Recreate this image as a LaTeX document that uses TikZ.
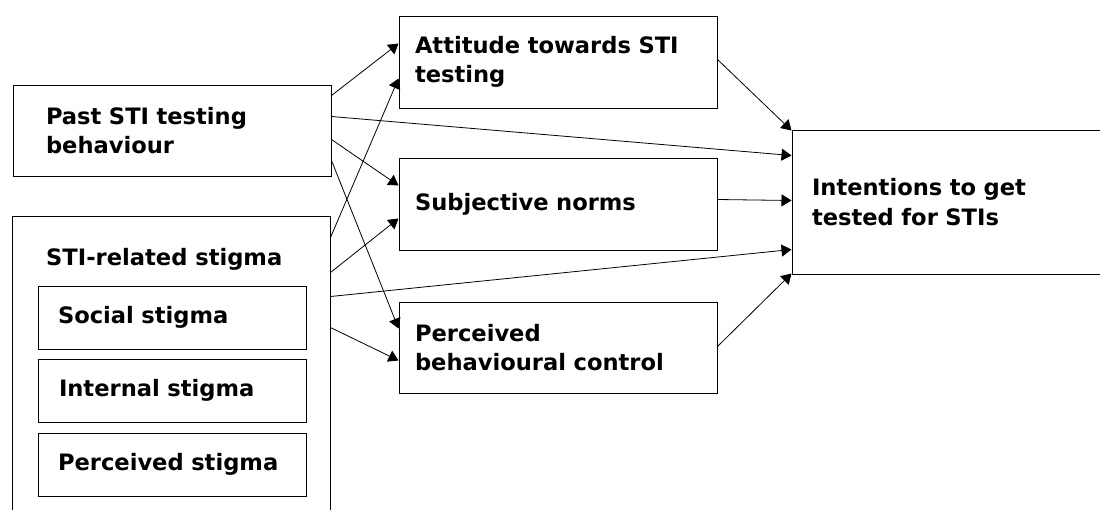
\documentclass[tikz,border=0pt]{standalone}
\usepackage{fontspec}
\setmainfont{DejaVu Sans}
\usetikzlibrary{arrows.meta}

\tikzset{
    box/.style={draw, line width=1pt, rectangle, align=left, inner ysep=0pt},
    link/.style={line width=0.8pt, -{Triangle[length=10pt,width=12pt]}}
}

\begin{document}
\begin{tikzpicture}[x=1pt, y=-1pt, font=\bfseries\fontsize{22.6}{29.5}\selectfont]
    \useasboundingbox (0,0) rectangle (1100,509);

    % Left column
    \node[box, minimum width=318pt, minimum height=91pt, text width=252pt, inner xsep=33pt] (past) at (172,130.5) {Past STI testing\\behaviour};
    \node[box, minimum width=318pt, minimum height=304pt] (stigma) at (171,368) {}; % runs off the bottom
    \node[anchor=base west, inner sep=0pt] (stigmatitle) at (46,265) {STI-related stigma};
    \node[box, minimum width=268pt, minimum height=63pt, text width=228pt, inner xsep=20pt] (social) at (172,317.5) {Social stigma};
    \node[box, minimum width=268pt, minimum height=63pt, text width=226pt, inner xsep=21pt] (internal) at (172,390.5) {Internal stigma};
    \node[box, minimum width=268pt, minimum height=63pt, text width=228pt, inner xsep=20pt] (perceived) at (172,464.5) {Perceived stigma};

    % Middle column
    \node[box, minimum width=318pt, minimum height=92pt, text width=286pt, inner xsep=16pt] (attitude) at (558,62) {Attitude towards STI\\testing};
    \node[box, minimum width=318pt, minimum height=92pt, text width=286pt, inner xsep=16pt] (norms) at (558,204) {Subjective norms};
    \node[box, minimum width=318pt, minimum height=91pt, text width=286pt, inner xsep=16pt] (control) at (558,347.5) {Perceived\\behavioural control};

    % Outcome
    \node[box, minimum width=318pt, minimum height=144pt, text width=278pt, inner xsep=20pt] (intent) at (951,202) {Intentions to get\\tested for STIs}; % runs off the right

    % Paths
    \draw[link] ([yshift=-11pt]past.north east) -- ([yshift=-28pt]attitude.north west);
    \draw[link] ([yshift=-22pt]stigma.north east) -- ([yshift=-63pt]attitude.north west);
    \draw[link] ([yshift=-32pt]past.north east) -- ([yshift=-26pt]intent.north west);
    \draw[link] ([yshift=-55pt]past.north east) -- ([yshift=-28pt]norms.north west);
    \draw[link] ([yshift=-57pt]stigma.north east) -- ([yshift=-61pt]norms.north west);
    \draw[link] ([yshift=-76pt]past.north east) -- ([yshift=-27pt]control.north west);
    \draw[link] ([yshift=-112pt]stigma.north east) -- ([yshift=-59pt]control.north west);
    \draw[link] ([yshift=-81pt]stigma.north east) -- ([yshift=-120pt]intent.north west);
    \draw[link] ([yshift=-44pt]attitude.north east) -- ([yshift=-1pt]intent.north west);
    \draw[link] ([yshift=-42pt]norms.north east) -- ([yshift=-71pt]intent.north west);
    \draw[link] ([yshift=-45pt]control.north east) -- ([yshift=1pt]intent.south west);

\end{tikzpicture}
\end{document}
